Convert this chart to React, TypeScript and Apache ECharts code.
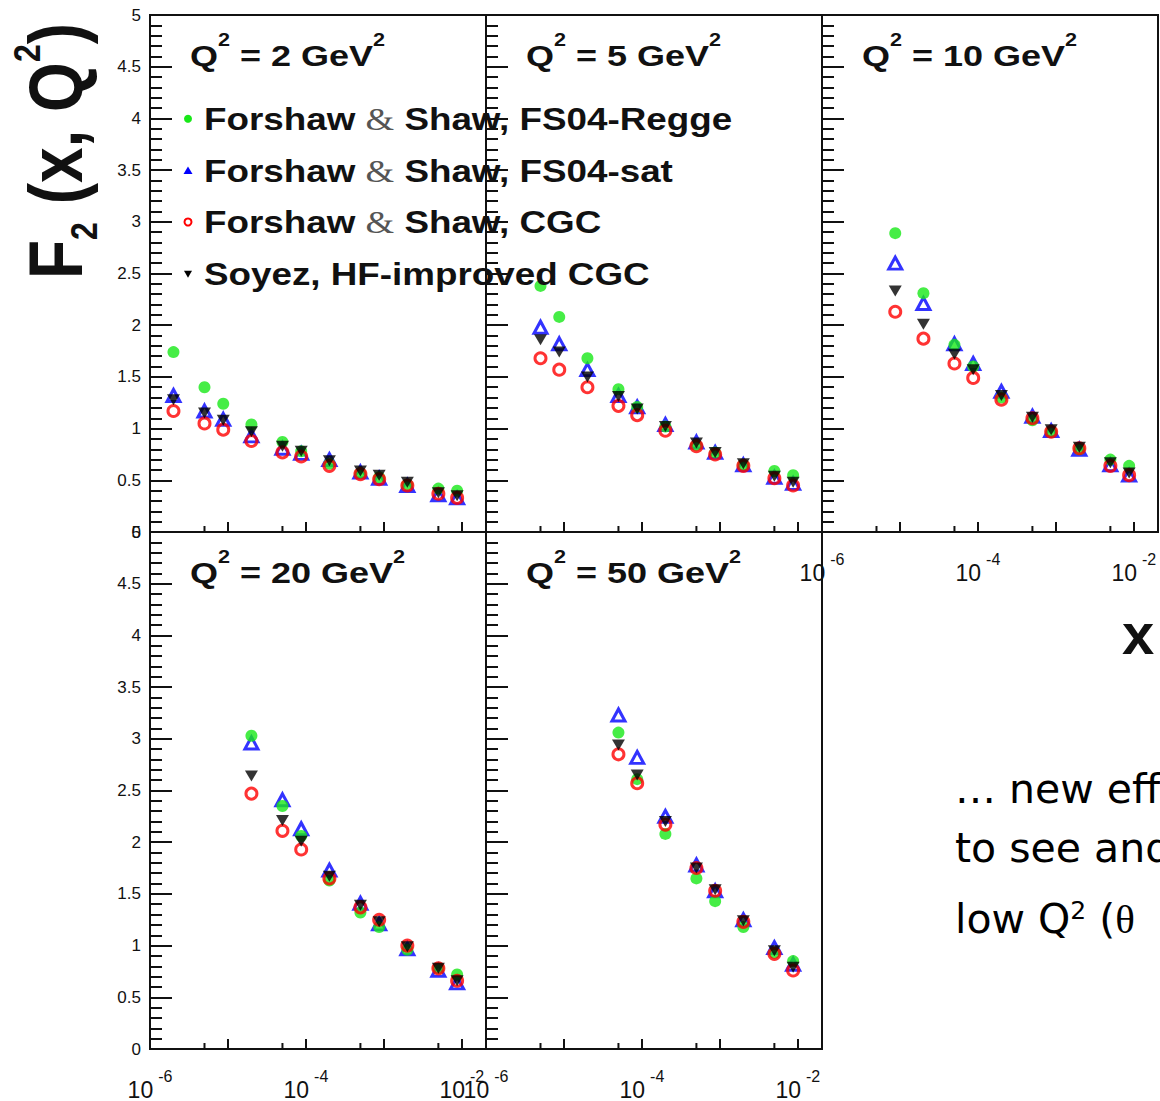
import React, { useEffect, useRef } from "react";
import * as echarts from "echarts";

// ---------------- data ----------------
const q2Labels = ["2", "5", "10", "20", "50"];
const xBins = [2e-6, 5e-6, 8.7e-6, 2e-5, 5e-5, 8.7e-5, 2e-4, 5e-4, 8.7e-4, 2e-3, 5e-3, 8.7e-3];
const firstBin = [0, 1, 2, 3, 4];
const xLabelExponents = [-6, -4, -2];
const xMinorTicks = [5e-6, 5e-5, 5e-4, 5e-3];

// FS04-Regge (green)
const reggeQ2 = [1.74, 1.4, 1.24, 1.04, 0.87, 0.78, 0.66, 0.57, 0.53, 0.46, 0.42, 0.4];
const reggeQ5 = [2.38, 2.08, 1.68, 1.38, 1.21, 1.02, 0.84, 0.77, 0.65, 0.59, 0.55];
const reggeQ10 = [2.89, 2.31, 1.81, 1.6, 1.3, 1.08, 0.97, 0.8, 0.7, 0.64];
const reggeQ20 = [3.03, 2.35, 2.06, 1.63, 1.32, 1.18, 0.96, 0.78, 0.72];
const reggeQ50 = [3.06, 2.61, 2.08, 1.65, 1.43, 1.18, 0.93, 0.85];

// FS04-sat (blue)
const satQ2 = [1.32, 1.17, 1.09, 0.93, 0.81, 0.76, 0.7, 0.58, 0.52, 0.45, 0.36, 0.33];
const satQ5 = [1.98, 1.82, 1.57, 1.32, 1.21, 1.04, 0.87, 0.77, 0.65, 0.53, 0.47];
const satQ10 = [2.6, 2.21, 1.82, 1.63, 1.36, 1.12, 0.98, 0.8, 0.65, 0.55];
const satQ20 = [2.96, 2.41, 2.13, 1.73, 1.41, 1.21, 0.97, 0.76, 0.64];
const satQ50 = [3.23, 2.82, 2.25, 1.78, 1.53, 1.25, 0.98, 0.82];

// CGC (red)
const cgcQ2 = [1.17, 1.05, 0.99, 0.88, 0.77, 0.73, 0.64, 0.56, 0.51, 0.45, 0.37, 0.33];
const cgcQ5 = [1.68, 1.57, 1.4, 1.22, 1.13, 0.98, 0.83, 0.75, 0.64, 0.52, 0.45];
const cgcQ10 = [2.13, 1.87, 1.63, 1.49, 1.28, 1.1, 0.97, 0.81, 0.64, 0.55];
const cgcQ20 = [2.47, 2.11, 1.93, 1.65, 1.37, 1.25, 1.0, 0.78, 0.66];
const cgcQ50 = [2.85, 2.57, 2.17, 1.75, 1.53, 1.23, 0.92, 0.76];

// Soyez HF-improved CGC (black)
const soyezQ2 = [1.28, 1.15, 1.08, 0.97, 0.83, 0.78, 0.69, 0.59, 0.55, 0.48, 0.38, 0.35];
const soyezQ5 = [1.86, 1.74, 1.5, 1.31, 1.19, 1.02, 0.86, 0.77, 0.66, 0.54, 0.48];
const soyezQ10 = [2.33, 2.01, 1.72, 1.57, 1.32, 1.11, 0.99, 0.82, 0.67, 0.57];
const soyezQ20 = [2.64, 2.21, 2.01, 1.67, 1.39, 1.23, 0.99, 0.78, 0.66];
const soyezQ50 = [2.94, 2.65, 2.2, 1.75, 1.54, 1.24, 0.95, 0.79];

const legendNames = [
  "Forshaw & Shaw, FS04-Regge",
  "Forshaw & Shaw, FS04-sat",
  "Forshaw & Shaw, CGC",
  "Soyez, HF-improved CGC",
];

// ---------------- styling ----------------
const FONT = "'Liberation Sans', Arial, Helvetica, sans-serif";
const SERIF = "'Liberation Serif', 'Times New Roman', serif";
const INK = "#111";

const grids = [
  { left: 150, top: 15, width: 336, height: 517 },
  { left: 486, top: 15, width: 336, height: 517 },
  { left: 822, top: 15, width: 336, height: 517 },
  { left: 150, top: 532, width: 336, height: 517 },
  { left: 486, top: 532, width: 336, height: 517 },
];
const X_MAX = Math.pow(10, -1.69);

const models = [
  {
    name: legendNames[1],
    values: [satQ2, satQ5, satQ10, satQ20, satQ50],
    symbol: "triangle",
    symbolSize: [13, 12],
    symbolRotate: 0,
    itemStyle: { color: "rgba(0,0,0,0)", borderColor: "#0000ff", borderWidth: 3 },
    z: 2,
  },
  {
    name: legendNames[0],
    values: [reggeQ2, reggeQ5, reggeQ10, reggeQ20, reggeQ50],
    symbol: "circle",
    symbolSize: 12,
    symbolRotate: 0,
    itemStyle: { color: "#18e818" },
    z: 3,
  },
  {
    name: legendNames[2],
    values: [cgcQ2, cgcQ5, cgcQ10, cgcQ20, cgcQ50],
    symbol: "circle",
    symbolSize: 11,
    symbolRotate: 0,
    itemStyle: { color: "rgba(0,0,0,0)", borderColor: "#ff0000", borderWidth: 3 },
    z: 4,
  },
  {
    name: legendNames[3],
    values: [soyezQ2, soyezQ5, soyezQ10, soyezQ20, soyezQ50],
    symbol: "triangle",
    symbolSize: [13, 11],
    symbolRotate: 180,
    itemStyle: { color: "#000000" },
    z: 5,
  },
];

function xLabelFormatter(v: number) {
  const l = Math.log10(v);
  const e = Math.round(l);
  if (Math.abs(l - e) > 1e-3) return "";
  if (xLabelExponents.indexOf(e) < 0) return "";
  return `{b|10}{e|${e}}`;
}

function buildOption() {
  const series: any[] = [];
  grids.forEach((_, g) => {
    models.forEach((m) => {
      series.push({
        type: "scatter",
        name: m.name,
        xAxisIndex: g,
        yAxisIndex: g,
        silent: true,
        symbol: m.symbol,
        symbolSize: m.symbolSize,
        symbolRotate: m.symbolRotate,
        itemStyle: m.itemStyle,
        z: m.z,
        data: m.values[g].map((v, j) => [xBins[firstBin[g] + j], v]),
      });
    });
  });

  return {
    animation: false,
    backgroundColor: "#ffffff",
    textStyle: { fontFamily: FONT },
    grid: grids.map((gr) => ({
      ...gr,
      show: true,
      borderColor: INK,
      borderWidth: 2,
      backgroundColor: "transparent",
      containLabel: false,
    })),
    xAxis: grids.map((_, g) => ({
      type: "log",
      logBase: 10,
      gridIndex: g,
      min: 1e-6,
      max: X_MAX,
      splitNumber: 5,
      axisLine: { show: false },
      splitLine: { show: false },
      axisTick: { show: true, inside: true, length: 10, lineStyle: { color: INK, width: 2 } },
      minorTick: { show: false },
      axisLabel: {
        show: g >= 2,
        showMinLabel: true,
        showMaxLabel: false,
        margin: 19,
        formatter: xLabelFormatter,
        rich: {
          b: { fontSize: 23, lineHeight: 43, fontFamily: FONT, color: INK },
          e: { fontSize: 16, verticalAlign: "top", fontFamily: FONT, color: INK, padding: [0, 0, 0, 5] },
        },
      },
    })),
    yAxis: grids.map((_, g) => ({
      type: "value",
      gridIndex: g,
      min: 0,
      max: 5,
      interval: 0.5,
      axisLine: { show: false },
      splitLine: { show: false },
      axisTick: { show: true, inside: true, length: 22, lineStyle: { color: INK, width: 2 } },
      minorTick: { show: true, splitNumber: 5, length: 12, lineStyle: { color: INK, width: 2 } },
      minorSplitLine: { show: false },
      axisLabel: {
        show: g === 0 || g === 3,
        margin: 9,
        fontSize: 17,
        fontFamily: FONT,
        color: INK,
      },
    })),
    series,
  };
}

function staticGraphics() {
  const els: any[] = [];
  // panel titles
  grids.forEach((gr, g) => {
    els.push({
      type: "text",
      x: gr.left + 40,
      y: gr.top + 15.5,
      scaleX: 1.2,
      silent: true,
      style: {
        text: `{b|Q}{s|2}{b| = ${q2Labels[g]} GeV}{s|2}`,
        align: "left",
        verticalAlign: "top",
        rich: {
          b: { fontSize: 30, fontWeight: "bold", fontFamily: FONT, lineHeight: 50, fill: INK },
          s: { fontSize: 18, fontWeight: "bold", fontFamily: FONT, verticalAlign: "top", fill: INK },
        },
      },
    });
  });

  // legend
  const legendY = [118.8, 170.5, 222, 273.8];
  const mx = 188;
  els.push({ type: "circle", silent: true, shape: { cx: mx, cy: legendY[0], r: 4 }, style: { fill: "#18e818" } });
  els.push({
    type: "polygon",
    silent: true,
    shape: { points: [[mx - 4.5, legendY[1] + 3.5], [mx + 4.5, legendY[1] + 3.5], [mx, legendY[1] - 4]] },
    style: { fill: "#0000ff" },
  });
  els.push({
    type: "circle",
    silent: true,
    shape: { cx: mx, cy: legendY[2], r: 3.5 },
    style: { fill: "none", stroke: "#ff0000", lineWidth: 2 },
  });
  els.push({
    type: "polygon",
    silent: true,
    shape: { points: [[mx - 4, legendY[3] - 3], [mx + 4, legendY[3] - 3], [mx, legendY[3] + 4]] },
    style: { fill: "#000" },
  });
  legendNames.forEach((name, i) => {
    const parts = name.split("&");
    const text = parts.length > 1 ? `{t|${parts[0]}}{a|&}{t|${parts[1]}}` : `{t|${name}}`;
    els.push({
      type: "text",
      x: 204,
      y: legendY[i],
      scaleX: 1.15,
      silent: true,
      z: 10,
      style: {
        text,
        align: "left",
        verticalAlign: "middle",
        rich: {
          t: { fontSize: 32, fontWeight: "bold", fontFamily: FONT, lineHeight: 40, fill: INK },
          a: { fontSize: 32, fontWeight: "normal", fontFamily: SERIF, lineHeight: 40, fill: "#555" },
        },
      },
    });
  });

  // y axis title
  els.push({
    type: "text",
    x: -3,
    y: 279,
    rotation: Math.PI / 2,
    scaleY: 1.18,
    silent: true,
    style: {
      text: "{b|F}{sub|2}{b| (x, Q}{sup|2}{b|)}",
      align: "left",
      verticalAlign: "top",
      rich: {
        b: { fontSize: 64, fontWeight: "bold", fontFamily: FONT, lineHeight: 100, fill: INK },
        sub: { fontSize: 32, fontWeight: "bold", fontFamily: FONT, verticalAlign: "bottom", padding: [0, 0, 10.8, 0], fill: INK },
        sup: { fontSize: 32, fontWeight: "bold", fontFamily: FONT, verticalAlign: "top", padding: [8.7, 0, 0, 0], fill: INK },
      },
    },
  });

  // x axis title
  els.push({
    type: "text",
    x: 1138,
    y: 633,
    silent: true,
    style: {
      text: "x",
      align: "center",
      verticalAlign: "middle",
      fontSize: 58,
      fontWeight: "bold",
      fontFamily: FONT,
      fill: INK,
    },
  });

  // slide side text
  const sideFont = "'DejaVu Sans', 'Noto Sans', sans-serif";
  const sideRich = {
    c: { fontSize: 41, fontFamily: sideFont, lineHeight: 60, fill: "#000" },
    s: { fontSize: 25, fontFamily: sideFont, verticalAlign: "top", padding: [9, 0, 0, 0], fill: "#000" },
    g: { fontSize: 41, fontFamily: SERIF, lineHeight: 60, fill: "#000" },
  };
  const sideLines = [
    { y: 759, text: "{c|… new eff}" },
    { y: 818, text: "{c|to see and}" },
    { y: 889, text: "{c|low Q}{s|2}{c| (}{g|θ}" },
  ];
  sideLines.forEach((ln) => {
    els.push({
      type: "text",
      x: 955,
      y: ln.y,
      scaleX: 1.0,
      silent: true,
      style: { text: ln.text, align: "left", verticalAlign: "top", rich: sideRich },
    });
  });
  return els;
}

export default function App() {
  const ref = useRef<HTMLDivElement>(null);
  useEffect(() => {
    document.body.style.margin = "0";
    if (!ref.current) return;
    const chart = echarts.init(ref.current, null, { renderer: "svg" });
    chart.setOption(buildOption());
    const ticks: any[] = [];
    grids.forEach((_, g) => {
      xMinorTicks.forEach((v) => {
        const p = chart.convertToPixel({ gridIndex: g } as any, [v, 0]) as number[];
        if (p && isFinite(p[0])) {
          ticks.push({
            type: "line",
            silent: true,
            shape: { x1: p[0], y1: p[1], x2: p[0], y2: p[1] - 6 },
            style: { stroke: INK, lineWidth: 2 },
          });
        }
      });
    });
    chart.setOption({ graphic: { elements: [...staticGraphics(), ...ticks] } });
    return () => chart.dispose();
  }, []);
  return (
    <div
      ref={ref}
      style={{ position: "absolute", left: 0, top: 0, width: 1160, height: 1101, background: "#fff" }}
    />
  );
}
